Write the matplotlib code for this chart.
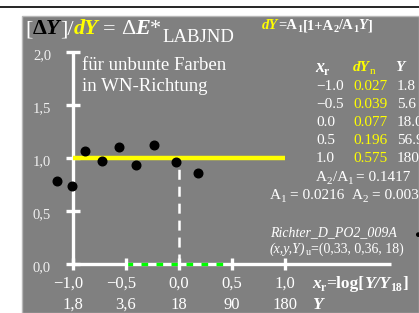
import matplotlib
matplotlib.use('Agg')
import matplotlib.pyplot as plt
from matplotlib.patches import Rectangle

plt.rcParams['font.family'] = ['Liberation Serif', 'DejaVu Serif']
plt.rcParams['lines.scale_dashes'] = False

# ---------------- data ----------------
x_points = [-1.15, -1.01, -0.89, -0.73, -0.57, -0.41, -0.24, -0.03, 0.18]
y_points = [0.78, 0.74, 1.07, 0.97, 1.10, 0.93, 1.12, 0.96, 0.86]
fit_x = [-1.0, 1.0]
fit_y = [1.0, 1.0]
xr_ticks = [-1.0, -0.5, 0.0, 0.5, 1.0]
xr_labels = ['\u22121,0', '\u22120,5', '0,0', '0,5', '1,0']
Y_labels = ['1,8', '3,6', '18', '90', '180']
y_ticks = [0.0, 0.5, 1.0, 1.5, 2.0]
y_labels = ['0,0', '0,5', '1,0', '1,5', '2,0']
table_xr = ['\u22121.0', '\u22120.5', '0.0', '0.5', '1.0']
table_dYn = ['0.027', '0.039', '0.077', '0.196', '0.575']
table_Y = ['1.8', '5.6', '18.0', '56.9', '180']
ratio_text = '0.1417'
A1_text = '0.0216'
A2_text = '0.003'
green_range = [-0.5, 0.5]

# ---------------- figure ----------------
W, H = 419, 313
fig = plt.figure(figsize=(W / 100, H / 100), dpi=100)
fig.patch.set_facecolor('white')
ax = fig.add_axes([0, 0, 1, 1])
ax.axis('off')
PX = 106.0  # pixels per unit
ax.set_xlim(-1 - 73 / PX, -1 + (W - 73) / PX)
ax.set_ylim(-(H - 264) / PX, 264 / PX)

def P(x, y):
    return (x / W, 1 - y / H)

# gray panel
ax.add_patch(Rectangle(P(22, H), (W - 22) / W, (H - 16) / H, transform=fig.transFigure,
                       facecolor='#808080', edgecolor='#b8b8b8', lw=1.0, zorder=0))
# black line at top
ax.plot([0, 1], [1 - 6.8 / H] * 2, transform=ax.transAxes, color='black', lw=1.2,
        solid_capstyle='butt', clip_on=False, zorder=1)

# axes lines
ax.plot([-1, -1], [0, 2.0], color='white', lw=2.4, solid_capstyle='butt', zorder=2)
ax.plot([-1, 2.0], [0, 0], color='white', lw=2.4, solid_capstyle='butt', zorder=2)
ax.plot(green_range, [0, 0], color='#00ff00', lw=2.4, dashes=(4.8, 6.0),
        dash_capstyle='butt', zorder=3)
ax.plot(xr_ticks, [0] * len(xr_ticks), ls='none', marker='|', ms=8.5, mew=2.4,
        color='white', zorder=4)
ax.plot([-1] * len(y_ticks), y_ticks, ls='none', marker='_', ms=9.5, mew=2.4,
        color='white', zorder=2)
# yellow line
ax.plot(fit_x, fit_y, color='#ffff00', lw=3.2, solid_capstyle='butt', zorder=3)
# vertical dashed
ax.plot([0, 0], [0, 0.95], color='white', lw=1.8, dashes=(7.2, 5.0),
        dash_capstyle='butt', zorder=3)
# points
ax.plot(x_points, y_points, ls='none', marker='o', ms=6.2, color='black', zorder=5)

# tick labels
for v, lab in zip(y_ticks, y_labels):
    ax.text(-1 - 22 / PX, v - 4 / PX, lab, color='#f0f0f0', fontsize=10.5, ha='right',
            va='center', zorder=6)
for v, a, b in zip(xr_ticks, xr_labels, Y_labels):
    off = -5 / PX if a.startswith('\u2212') else 0
    ax.text(v + off, -(288 - 264) / PX, a, color='white', fontsize=12, ha='center',
            va='baseline', zorder=6)
    ax.text(v, -(309 - 264) / PX, b, color='white', fontsize=12, ha='center',
            va='baseline', zorder=6)

renderer = fig.canvas.get_renderer()

def seq(x, y, parts):
    """parts: list of (text, color, size, weight, style, dy, gap)"""
    for s, color, size, weight, style, dy, gap in parts:
        x += gap
        t = fig.text(*P(x, y + dy), s, color=color, fontsize=size, fontweight=weight,
                     fontstyle=style, ha='left', va='baseline')
        bb = t.get_window_extent(renderer)
        x += bb.width
    return x

Wc, Yc, Bc = 'white', '#ffff00', 'black'
N, B, I, BI = ('normal', 'normal'), ('bold', 'normal'), ('normal', 'italic'), ('bold', 'italic')

def pt(s, c, size, f, dy=0, gap=0):
    return (s, c, size, f[0], f[1], dy, gap)

# title
ts = 16
seq(25, 34, [pt('[', Wc, ts, N), pt('\u0394', Bc, ts, B), pt('Y', Bc, ts, BI),
             pt(']/', Wc, ts, N), pt('dY', Yc, ts, BI), pt('=', Wc, ts, N, gap=5),
             pt('\u0394', Wc, ts, N, gap=5), pt('E', Wc, ts, BI), pt('*', Wc, ts, N),
             pt('LABJND', Wc, 13.5, N, dy=8, gap=1)])

# note text
fig.text(*P(82, 70), 'für unbunte Farben', color='white', fontsize=13.5, ha='left', va='baseline')
fig.text(*P(82, 91), 'in WN-Richtung', color='white', fontsize=13.5, ha='left', va='baseline')

# formula
fs = 10.5
seq(262, 29, [pt('dY', Yc, fs, BI), pt('=A', Wc, fs, B), pt('1', Wc, 7.5, B, dy=3),
              pt('[1+A', Wc, fs, B), pt('2', Wc, 7.5, B, dy=3), pt('/A', Wc, fs, B),
              pt('1', Wc, 7.5, B, dy=3), pt('Y', Wc, fs, BI), pt(']', Wc, fs, B)])

# table header
seq(315, 72, [pt('x', Wc, 13, BI), pt('r', Wc, 8.5, B, dy=3)])
seq(353, 71, [pt('dY', Yc, 11, BI), pt('n', Yc, 8, N, dy=3)])
seq(395, 71, [pt('Y', Wc, 11, BI)])

rows_y = [90, 108, 126, 144, 162]
for yy, a, b, c in zip(rows_y, table_xr, table_dYn, table_Y):
    fig.text(*P(316, yy), a, color='white', fontsize=11, va='baseline')
    fig.text(*P(353, yy), b, color=Yc, fontsize=11, va='baseline')
    fig.text(*P(397, yy), c, color='white', fontsize=11, va='baseline')

seq(316, 181, [pt('A', Wc, 11, N), pt('2', Wc, 8, N, dy=3), pt('/A', Wc, 11, N),
               pt('1', Wc, 8, N, dy=3), pt('= ' + ratio_text, Wc, 11, N, gap=3)])
seq(270, 199, [pt('A', Wc, 11, N), pt('1', Wc, 8, N, dy=3),
               pt('= ' + A1_text, Wc, 11, N, gap=3), pt('A', Wc, 11, N, gap=8),
               pt('2', Wc, 8, N, dy=3), pt('= ' + A2_text, Wc, 11, N, gap=3)])

# source text
fig.text(*P(270, 236), 'Richter_D_PO2_009A', color='white', fontsize=10, fontstyle='italic',
         va='baseline')
seq(270, 253, [pt('(x,y,Y)', Wc, 10, I), pt('u', Wc, 7.5, N, dy=2),
               pt('=(0,33, 0,36, 18)', Wc, 10, N)])
fig.text(*P(414, 238), '\u25cf', color='black', fontsize=8, va='baseline')

# x axis titles
seq(312, 288, [pt('x', Wc, 12.5, BI), pt('r', Wc, 8.5, B, dy=3), pt('=log[', Wc, 12.5, B),
               pt('Y/Y', Wc, 12.5, BI), pt('18', Wc, 8.5, B, dy=3), pt(']', Wc, 12.5, B)])
seq(312, 309, [pt('Y', Wc, 12.5, BI)])

fig.savefig('out.png', dpi=100, facecolor='white')
